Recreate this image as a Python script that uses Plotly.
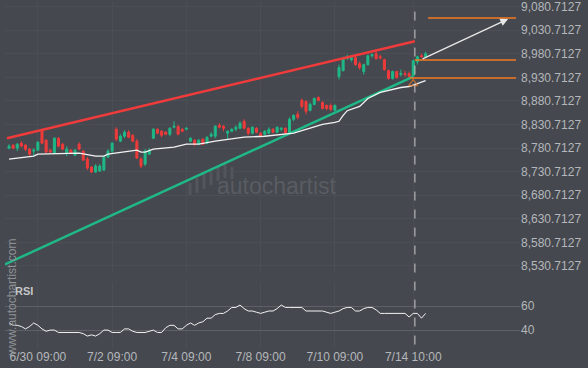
import plotly.graph_objects as go

# ---------------- data ----------------
opens = [8780.5, 8786.8, 8780.5, 8791.1, 8786.8, 8778.4, 8774.2, 8776.3, 8816.4, 8797.4,
         8776.3, 8770.0, 8801.6, 8788.9, 8770.0, 8776.3, 8765.7, 8788.9, 8774.2, 8757.3,
         8740.4, 8729.9, 8732.0, 8734.1, 8761.5, 8774.2, 8820.6, 8795.3, 8805.8, 8814.3,
         8807.9, 8795.3, 8757.3, 8746.7, 8767.8, 8801.6, 8820.6, 8816.4, 8814.3, 8810.0,
         8824.8, 8826.9, 8820.6, 8820.6, 8795.3, 8797.4, 8788.9, 8799.5, 8791.1, 8805.8,
         8805.8, 8829.0, 8826.9, 8812.2, 8816.4, 8820.6, 8822.7, 8837.5, 8822.7, 8812.2,
         8822.7, 8812.2, 8810.0, 8812.2, 8820.6, 8814.3, 8820.6, 8822.7, 8812.2, 8841.7,
         8852.2, 8881.8, 8879.7, 8860.7, 8873.4, 8888.1, 8877.6, 8871.2, 8871.2, 8860.7,
         8932.4, 8945.1, 8970.4, 8968.3, 8972.5, 8959.8, 8943.0, 8957.7, 8976.7, 8980.9,
         8974.6, 8968.3, 8945.1, 8928.2, 8943.0, 8936.6, 8938.7, 8938.7, 8934.5, 8964.1,
         8976.7, 8974.6]
closes = [8784.7, 8780.5, 8788.9, 8784.7, 8778.4, 8767.8, 8776.3, 8793.2, 8791.1, 8772.1,
          8772.1, 8801.6, 8784.7, 8778.4, 8778.4, 8770.0, 8776.3, 8778.4, 8755.2, 8738.3,
          8729.9, 8742.5, 8742.5, 8761.5, 8774.2, 8791.1, 8799.5, 8805.8, 8814.3, 8803.7,
          8795.3, 8759.4, 8742.5, 8774.2, 8776.3, 8820.6, 8812.2, 8807.9, 8810.0, 8822.7,
          8826.9, 8810.0, 8816.4, 8822.7, 8801.6, 8788.9, 8797.4, 8788.9, 8803.7, 8810.0,
          8826.9, 8824.8, 8822.7, 8816.4, 8820.6, 8824.8, 8833.3, 8822.7, 8812.2, 8824.8,
          8814.3, 8805.8, 8816.4, 8820.6, 8814.3, 8824.8, 8822.7, 8812.2, 8841.7, 8850.1,
          8845.9, 8869.1, 8858.6, 8873.4, 8886.0, 8881.8, 8864.9, 8864.9, 8862.8, 8871.2,
          8951.4, 8970.4, 8974.6, 8972.5, 8957.7, 8951.4, 8957.7, 8976.7, 8978.8, 8970.4,
          8972.5, 8947.2, 8928.2, 8943.0, 8930.3, 8938.7, 8936.6, 8932.4, 8966.2, 8974.6,
          8974.6, 8980.9]
highs = [8788.9, 8788.9, 8791.1, 8795.3, 8788.9, 8780.5, 8780.5, 8795.3, 8820.6, 8799.5,
         8778.4, 8803.7, 8803.7, 8791.1, 8784.7, 8778.4, 8778.4, 8793.2, 8776.3, 8761.5,
         8742.5, 8746.7, 8746.7, 8763.6, 8778.4, 8793.2, 8824.8, 8810.0, 8818.5, 8818.5,
         8810.0, 8799.5, 8761.5, 8778.4, 8780.5, 8822.7, 8822.7, 8818.5, 8816.4, 8824.8,
         8837.5, 8829.0, 8822.7, 8824.8, 8803.7, 8799.5, 8799.5, 8801.6, 8805.8, 8814.3,
         8829.0, 8833.3, 8829.0, 8818.5, 8822.7, 8829.0, 8837.5, 8841.7, 8824.8, 8826.9,
         8824.8, 8814.3, 8818.5, 8824.8, 8822.7, 8826.9, 8824.8, 8824.8, 8845.9, 8852.2,
         8858.6, 8886.0, 8881.8, 8877.6, 8888.1, 8890.2, 8879.7, 8873.4, 8875.5, 8873.4,
         8957.7, 8974.6, 8978.8, 8976.7, 8976.7, 8964.1, 8959.8, 8978.8, 8980.9, 8989.4,
         8978.8, 8970.4, 8947.2, 8945.1, 8945.1, 8947.2, 8945.1, 8943.0, 8968.3, 8976.7,
         8980.9, 8985.1]
lows = [8778.4, 8778.4, 8774.2, 8782.6, 8774.2, 8763.6, 8763.6, 8774.2, 8788.9, 8770.0,
        8770.0, 8767.8, 8782.6, 8776.3, 8763.6, 8767.8, 8763.6, 8776.3, 8753.1, 8734.1,
        8727.8, 8727.8, 8729.9, 8732.0, 8759.4, 8770.0, 8795.3, 8793.2, 8801.6, 8801.6,
        8793.2, 8757.3, 8738.3, 8742.5, 8765.7, 8799.5, 8810.0, 8803.7, 8807.9, 8805.8,
        8822.7, 8807.9, 8814.3, 8818.5, 8793.2, 8784.7, 8786.8, 8786.8, 8788.9, 8803.7,
        8801.6, 8822.7, 8816.4, 8799.5, 8814.3, 8816.4, 8820.6, 8820.6, 8807.9, 8810.0,
        8812.2, 8803.7, 8805.8, 8810.0, 8812.2, 8812.2, 8816.4, 8810.0, 8810.0, 8837.5,
        8841.7, 8864.9, 8852.2, 8858.6, 8871.2, 8879.7, 8862.8, 8860.7, 8858.6, 8858.6,
        8926.1, 8943.0, 8968.3, 8964.1, 8955.6, 8947.2, 8936.6, 8955.6, 8972.5, 8968.3,
        8968.3, 8945.1, 8926.1, 8926.1, 8928.2, 8932.4, 8932.4, 8930.3, 8932.4, 8957.7,
        8972.5, 8972.5]
candle_idx = list(range(len(opens)))

ma_idx = [0, 6, 7, 14, 17, 21, 23, 24, 31, 32, 33, 35, 40, 43, 46, 50, 53, 57, 62, 66,
          69, 72, 76, 79, 80, 81, 82, 85, 87, 90, 92, 95, 97, 101]
ma_val = [8757.3, 8763.6, 8767.8, 8770.0, 8770.0, 8763.6, 8763.6, 8767.8, 8776.3, 8772.0,
          8772.0, 8778.4, 8782.6, 8788.9, 8788.9, 8795.3, 8799.5, 8803.7, 8805.8, 8810.0,
          8812.2, 8820.6, 8831.2, 8835.4, 8837.5, 8850.0, 8860.0, 8869.1, 8886.0, 8898.7,
          8902.9, 8909.2, 8911.3, 8924.0]

rsi = [46, 44, 44, 43, 41, 43, 46, 44, 41, 39,
       40, 40, 38, 38, 38, 38, 38, 38, 37, 35,
       36, 35, 37, 40, 40, 38, 38, 38, 41, 41,
       39, 38, 38, 38, 39, 40, 38, 38, 42, 44,
       44, 41, 41, 44, 46, 44, 46, 47, 50, 50,
       53, 54, 54, 56, 59, 59, 61, 58, 56, 56,
       55, 54, 55, 56, 56, 58, 61, 59, 59, 59,
       59, 59, 56, 56, 56, 56, 56, 55, 54, 55,
       56, 58, 59, 59, 56, 56, 58, 59, 59, 57,
       54, 54, 54, 54, 54, 54, 54, 51, 54, 54,
       50, 54]

tick_idx = [7, 25, 43, 61, 79, 98]
tick_text = ["6/30 09:00", "7/2 09:00", "7/4 09:00", "7/8 09:00", "7/10 09:00", "7/14 10:00"]

price_ticks = [8530.7127 + 50 * k for k in range(12)]
price_text = [f"{v:,.4f}" for v in price_ticks]

resist_x = [-0.5, 98.4]
resist_y = [8801.7, 9007.3]
support_x = [-1.0, 98.0]
support_y = [8533.7, 8932.4]

level_vals = [9056.9, 8967.6, 8929.6]
level_start = [101.6, 98.4, 97.2]
level_end = [122.9, 122.9, 122.9]

arrow_from = (99.9, 8968.3)
arrow_to = (121.0, 9054.7)
marker_idx = 98
marker_price = 8917.6
signal_idx = 98.4

# ---------------- figure ----------------
BG = "#45484e"
GREEN = "#1fb886"
RED = "#ef3b3b"
ORANGE = "#f47a22"
TXT = "#b4b7bb"
FONT = "Liberation Sans, Arial, sans-serif"

fig = go.Figure()

fig.add_trace(go.Scatter(x=support_x, y=support_y, mode="lines",
                         line=dict(color=GREEN, width=2.5), xaxis="x", yaxis="y", hoverinfo="skip"))
fig.add_trace(go.Scatter(x=resist_x, y=resist_y, mode="lines",
                         line=dict(color=RED, width=2.5), xaxis="x", yaxis="y", hoverinfo="skip"))
fig.add_trace(go.Scatter(x=ma_idx, y=ma_val, mode="lines",
                         line=dict(color="#f2f2f2", width=1.3), xaxis="x", yaxis="y", hoverinfo="skip"))
fig.add_trace(go.Candlestick(x=candle_idx, open=opens, high=highs, low=lows, close=closes,
                             increasing=dict(line=dict(color=GREEN, width=1), fillcolor=GREEN),
                             decreasing=dict(line=dict(color=RED, width=1), fillcolor=RED),
                             whiskerwidth=0, xaxis="x", yaxis="y"))
for lv, s, e in zip(level_vals, level_start, level_end):
    fig.add_trace(go.Scatter(x=[s, e], y=[lv, lv], mode="lines",
                             line=dict(color=ORANGE, width=1.5), xaxis="x", yaxis="y", hoverinfo="skip"))
fig.add_trace(go.Scatter(x=[marker_idx], y=[marker_price], mode="markers",
                         marker=dict(symbol="triangle-up-open", size=8, color=ORANGE, opacity=0.7,
                                     line=dict(width=1.2, color=ORANGE)),
                         xaxis="x", yaxis="y", hoverinfo="skip"))
fig.add_trace(go.Scatter(x=candle_idx, y=rsi, mode="lines",
                         line=dict(color="#f2f2f2", width=1), xaxis="x", yaxis="y2", hoverinfo="skip"))

shapes = [dict(type="line", xref="x", yref="paper", x0=signal_idx, x1=signal_idx, y0=0.01, y1=0.99,
               line=dict(color="#c9cacc", width=1, dash="dash"))]
# faint logo bars of the watermark (pixel positions -> paper)
W, H, L = 515.0, 348.0, 5.0
for bx, top, bot in [(190, 182, 195), (197, 177, 192), (204, 172, 188), (211, 168, 184),
                     (218, 165, 180), (225, 163, 177), (232, 166, 178)]:
    shapes.append(dict(type="rect", xref="paper", yref="paper",
                       x0=(bx - 1.5 - L) / W, x1=(bx + 1.5 - L) / W,
                       y0=(H - bot) / H, y1=(H - top) / H,
                       line=dict(width=0), fillcolor="#53565c", layer="below"))

annotations = [
    dict(x=arrow_to[0], y=arrow_to[1], ax=arrow_from[0], ay=arrow_from[1], xref="x", yref="y",
         axref="x", ayref="y", text="", showarrow=True, arrowhead=2, arrowsize=1.2,
         arrowwidth=1.3, arrowcolor="#e8e8e8"),
    dict(x=(277 - L) / W, y=(H - 185) / H, xref="paper", yref="paper", text="autochartist",
         showarrow=False, xanchor="center", yanchor="middle",
         font=dict(family=FONT, size=23, color="#595c62")),
    dict(x=(13 - L) / W, y=(H - 291) / H, xref="paper", yref="paper", text="<b>RSI</b>",
         showarrow=False, xanchor="left", yanchor="middle",
         font=dict(family=FONT, size=11, color="#c4c6c9")),
    dict(x=(12 - L) / W, y=(H - 297) / H, xref="paper", yref="paper", text="www.autochartist.com",
         showarrow=False, textangle=-90, xanchor="center", yanchor="middle",
         font=dict(family=FONT, size=12, color="#8e9196")),
]

fig.update_layout(
    width=588, height=368,
    margin=dict(l=5, r=68, t=0, b=20),
    paper_bgcolor=BG, plot_bgcolor=BG,
    showlegend=False,
    font=dict(family=FONT, color=TXT, size=12),
    shapes=shapes, annotations=annotations,
    xaxis=dict(range=[-0.97, 123.88], tickvals=tick_idx, ticktext=tick_text,
               showgrid=True, gridcolor="#4b4e54", zeroline=False, showline=False,
               ticks="", anchor="y2", rangeslider=dict(visible=False),
               tickfont=dict(size=12, color=TXT, family=FONT)),
    yaxis=dict(domain=[0.2184, 1], range=[8516.8, 9090.63], side="right", anchor="x",
               tickvals=price_ticks, ticktext=price_text, showgrid=True, gridcolor="#4b4e54",
               zeroline=False, ticks="", ticklabeloverflow="allow",
               tickfont=dict(size=12, color=TXT, family=FONT)),
    yaxis2=dict(domain=[0, 0.1897], range=[25, 80], side="right", anchor="x",
                tickvals=[40, 60], ticktext=["40", "60"], showgrid=True, gridcolor="#5d6065",
                zeroline=False, ticks="", tickfont=dict(size=12, color=TXT, family=FONT)),
)

fig.write_html("out.html", config={"displayModeBar": False},
               post_script="document.body.style.margin='0';document.body.style.background='#45484e';")
